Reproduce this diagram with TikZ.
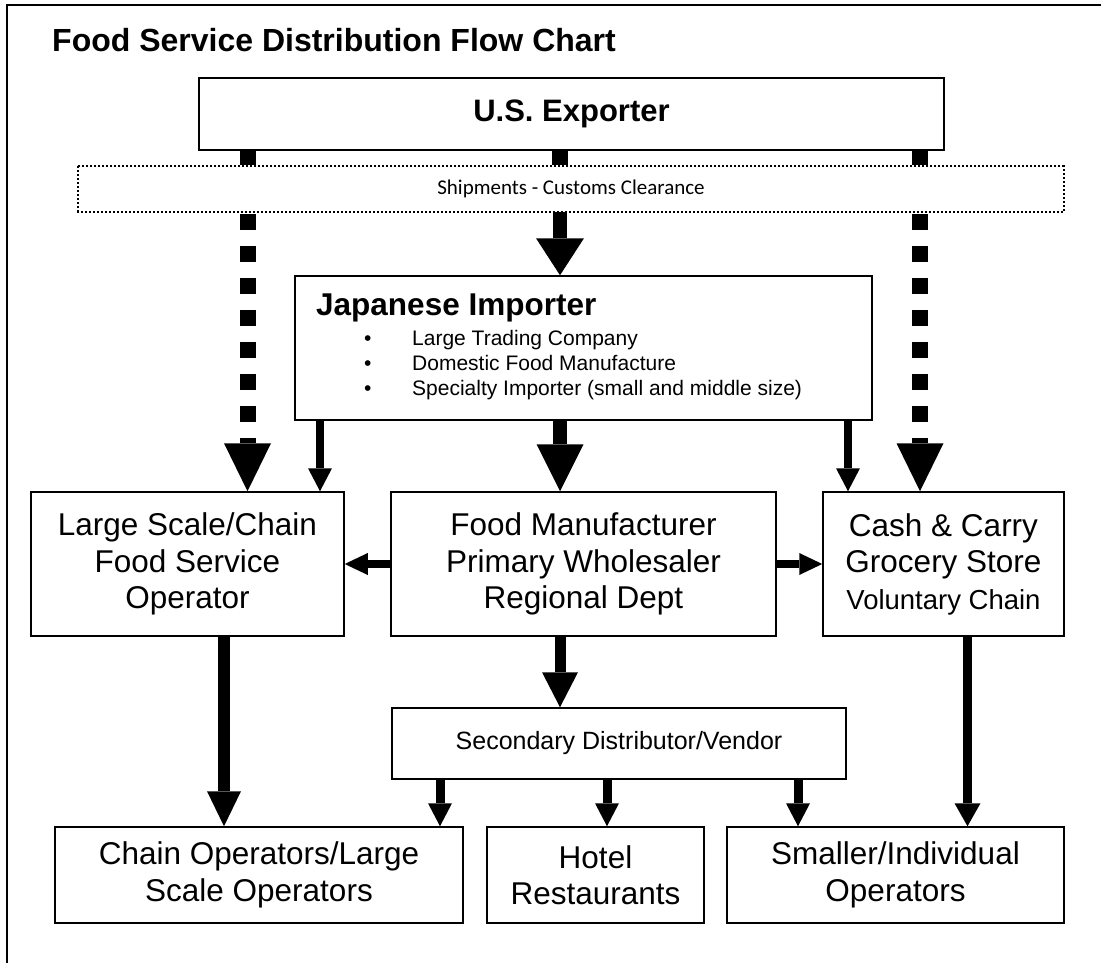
\documentclass[tikz,border=0pt]{standalone}
\usepackage{fontspec}
\setmainfont{Liberation Sans}
\newfontfamily\shipfont{Carlito}
\usetikzlibrary{arrows.meta}

\begin{document}
\begin{tikzpicture}[x=1pt,y=-1pt,
  box/.style={draw, line width=1.5pt, fill=white, inner sep=0pt, align=center,
              font=\fontsize{31.5}{36.5}\selectfont},
  arr/.style n args={3}{line width=#1,
              -{Triangle[width=#2,length=#3,line width=0pt]}},
  stub/.style={line width=16pt},
  dotarr/.style={line width=16pt, dash pattern=on 16pt off 16pt, dash phase=30pt,
              -{Triangle[width=47pt,length=48pt,line width=0pt]}},
  bullettext/.style={anchor=base west, inner sep=0pt, font=\fontsize{21}{25}\selectfont}
]
\useasboundingbox (0,0) rectangle (1101,963);
\fill[white] (0,0) rectangle (1101,963);

% page frame (top and left edges)
\draw[line width=2pt] (7,963) -- (7,5) -- (1101,5);

% title
\node[anchor=base west, inner sep=0pt, font=\bfseries\fontsize{32}{38}\selectfont]
  (title) at (52,52) {Food Service Distribution Flow Chart};

% boxes
\node[box, line width=2pt, minimum width=745pt, minimum height=72pt,
      font=\bfseries\fontsize{31}{36}\selectfont] (exp) at (571.5,114) {U.S. Exporter};
\node[box, draw=none, minimum width=984pt, minimum height=44pt] (ship) at (571,189) {};
\node[box, minimum width=577pt, minimum height=144pt] (imp) at (583.5,348) {};
\node[box, minimum width=313pt, minimum height=144pt] (lsfo) at (187.5,564)
  {Large Scale/Chain\\Food Service\\Operator};
\node[box, minimum width=385pt, minimum height=144pt] (fm) at (583.5,564)
  {Food Manufacturer\\Primary Wholesaler\\Regional Dept};
\node[box, minimum width=241pt, minimum height=144pt] (cc) at (943.5,564)
  {Cash \& Carry\\Grocery Store\\{\fontsize{27.5}{34}\selectfont Voluntary Chain}};
\node[box, minimum width=454pt, minimum height=71pt,
      font=\fontsize{25}{30}\selectfont] (sec) at (619,743.5)
  {Secondary Distributor/Vendor};
\node[box, minimum width=408pt, minimum height=96pt] (chain) at (259,875)
  {Chain Operators/Large\\Scale Operators};
\node[box, minimum width=217pt, minimum height=96pt] (hotel) at (595.5,875)
  {Hotel\\Restaurants};
\node[box, minimum width=337pt, minimum height=96pt] (small) at (895.5,875)
  {Smaller/Individual\\Operators};

% importer box contents
\node[anchor=base west, inner sep=0pt, font=\bfseries\fontsize{31.5}{36}\selectfont]
  (impt) at (316,315) {Japanese Importer};
\node[bullettext] (b1) at (364,345) {\textbullet};
\node[bullettext] (b2) at (364,370) {\textbullet};
\node[bullettext] (b3) at (364,395) {\textbullet};
\node[bullettext] (i1) at (412,345) {Large Trading Company};
\node[bullettext] (i2) at (412,370) {Domestic Food Manufacture};
\node[bullettext] (i3) at (412,395) {Specialty Importer (small and middle size)};

% connector columns
\coordinate (cL)  at (247.5,0);
\coordinate (cM)  at (560,0);
\coordinate (cR)  at (920,0);
\coordinate (cIL) at (320,0);
\coordinate (cIR) at (848,0);
\coordinate (cLS) at (224,0);
\coordinate (cCC) at (967.5,0);
\coordinate (cS1) at (440,0);
\coordinate (cS2) at (607,0);
\coordinate (cS3) at (798,0);

% exporter to shipments
\draw[stub, shorten >=1.5pt] (exp.south -| cL) -- (ship.north -| cL);
\draw[stub, shorten >=1.5pt] (exp.south -| cM) -- (ship.north -| cM);
\draw[stub, shorten >=1.5pt] (exp.south -| cR) -- (ship.north -| cR);

% shipments box
\draw[line width=1.8pt, dash pattern=on 1.8pt off 2.2pt]
  (ship.north west) rectangle (ship.south east);
\node[font=\shipfont\fontsize{21}{24}\selectfont] (shipt) at (ship.center)
  {Shipments - Customs Clearance};

% shipments onward
\draw[dotarr] (ship.south -| cL) -- (lsfo.north -| cL);
\draw[dotarr] (ship.south -| cR) -- (cc.north -| cR);
\draw[arr={14pt}{48pt}{37pt}] (ship.south -| cM) -- (imp.north -| cM);

% importer outputs
\draw[arr={8pt}{24pt}{23pt}] (imp.south -| cIL) -- (lsfo.north -| cIL);
\draw[arr={14pt}{47pt}{47pt}] (imp.south -| cM) -- (fm.north -| cM);
\draw[arr={8pt}{24pt}{23pt}] (imp.south -| cIR) -- (cc.north -| cIR);

% manufacturer sideways and down
\draw[arr={8pt}{22pt}{23pt}] (fm.west) -- (lsfo.east);
\draw[arr={8pt}{22pt}{23pt}] (fm.east) -- (cc.west);
\draw[arr={11pt}{36pt}{35pt}] (fm.south -| cM) -- (sec.north -| cM);

% to operators
\draw[arr={12pt}{34pt}{35pt}] (lsfo.south -| cLS) -- (chain.north -| cLS);
\draw[arr={9pt}{26pt}{23pt}] (cc.south -| cCC) -- (small.north -| cCC);
\draw[arr={9pt}{24pt}{23pt}] (sec.south -| cS1) -- (chain.north -| cS1);
\draw[arr={9pt}{24pt}{23pt}] (sec.south -| cS2) -- (hotel.north -| cS2);
\draw[arr={9pt}{24pt}{23pt}] (sec.south -| cS3) -- (small.north -| cS3);
\end{tikzpicture}
\end{document}
